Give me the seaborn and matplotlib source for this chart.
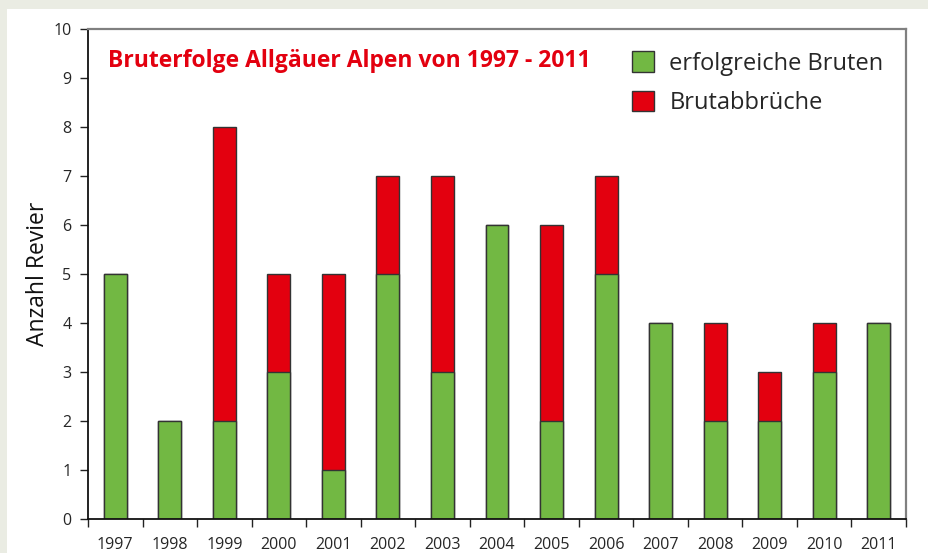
import matplotlib
matplotlib.use("Agg")
import matplotlib.pyplot as plt
import seaborn as sns
import numpy as np
import pandas as pd
from matplotlib.patches import Rectangle, Patch

years = ['1997', '1998', '1999', '2000', '2001', '2002', '2003', '2004',
         '2005', '2006', '2007', '2008', '2009', '2010', '2011']
erfolgreich = [5, 2, 2, 3, 1, 5, 3, 6, 2, 5, 4, 2, 2, 3, 4]
abbrueche = [0, 0, 6, 2, 4, 2, 4, 0, 4, 2, 0, 2, 1, 1, 0]

green = '#72b843'
red = '#e3000f'

df = pd.DataFrame({'Jahr': years, 'erfolgreich': erfolgreich, 'abbrueche': abbrueche})
df['gesamt'] = df['erfolgreich'] + df['abbrueche']

sns.set_style('white')
plt.rcParams['font.family'] = ['Open Sans', 'DejaVu Sans']

fig = plt.figure(figsize=(9.29, 5.53), dpi=100)
fig.patch.set_facecolor('#eaece3')
fig.patches.append(Rectangle((7 / 929, 0), 1, 1 - 9 / 553, transform=fig.transFigure,
                             facecolor='white', edgecolor='none', zorder=-10))
ax = fig.add_axes([88 / 929, 1 - 519 / 553, (906 - 88) / 929, (519 - 29) / 553])
ax.set_facecolor('white')

# red = total, green drawn on top
sns.barplot(data=df, x='Jahr', y='gesamt', color=red, width=0.42, edgecolor='#333333',
            linewidth=1, saturation=1, ax=ax)
sns.barplot(data=df, x='Jahr', y='erfolgreich', color=green, width=0.42, edgecolor='#333333',
            linewidth=1, saturation=1, ax=ax)

ax.set_xlim(-0.5, len(years) - 0.5)
ax.set_ylim(0, 10)
ax.set_yticks(range(0, 11))
ax.tick_params(axis='y', direction='out', length=6, width=1, color='#222222',
               labelsize=11.5, pad=6, left=True)
ax.set_xticks(range(len(years)))
ax.set_xticklabels(years)
ax.set_xticks(np.arange(-0.5, len(years), 1), minor=True)
ax.tick_params(axis='x', which='major', length=0, labelsize=11.5, pad=13)
ax.tick_params(axis='x', which='minor', direction='out', length=6, width=1,
               color='#222222', bottom=True)
ax.set_xlabel('')
ax.set_ylabel('Anzahl Revier', fontsize=16.5, color='#111111')
ax.yaxis.set_label_coords(-0.047, 0.5)

for s in ['left', 'bottom']:
    ax.spines[s].set_color('#111111')
    ax.spines[s].set_linewidth(1.3)
for s in ['top', 'right']:
    ax.spines[s].set_color('#808080')
    ax.spines[s].set_linewidth(1.6)

ax.text(0.025, 0.935, 'Bruterfolge Allgäuer Alpen von 1997 - 2011', transform=ax.transAxes,
        color=red, fontsize=16.5, fontweight='bold', va='center', ha='left')

handles = [Patch(facecolor=green, edgecolor='#333333', label='erfolgreiche Bruten'),
           Patch(facecolor=red, edgecolor='#333333', label='Brutabbrüche')]
ax.legend(handles=handles, loc='upper right', bbox_to_anchor=(1.0, 1.0), frameon=False,
          fontsize=17, handlelength=0.95, handleheight=0.95, handletextpad=0.65,
          labelspacing=0.65, borderaxespad=0.55)

fig.savefig('out.png', dpi=100, facecolor=fig.get_facecolor())
